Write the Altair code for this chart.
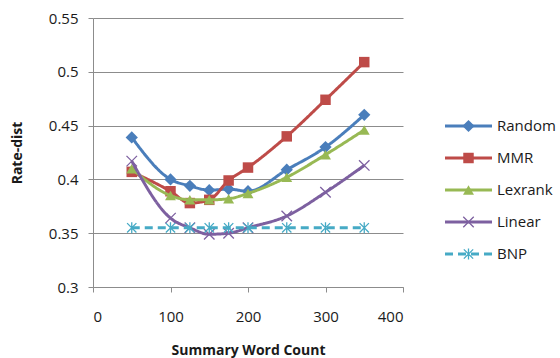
import altair as alt
import pandas as pd

# Summary length (words) and Rate-dist score of each method
word_counts = [50, 100, 125, 150, 175, 200, 250, 300, 350]
random_vals = [0.439, 0.400, 0.394, 0.390, 0.391, 0.389, 0.409, 0.430, 0.460]
mmr_vals = [0.407, 0.389, 0.378, 0.381, 0.399, 0.411, 0.440, 0.474, 0.509]
lexrank_vals = [0.410, 0.385, 0.381, 0.381, 0.382, 0.387, 0.402, 0.423, 0.446]
linear_vals = [0.417, 0.364, 0.355, 0.349, 0.350, 0.355, 0.366, 0.388, 0.413]
bnp_vals = [0.355, 0.355, 0.355, 0.355, 0.355, 0.355, 0.355, 0.355, 0.355]

series_names = ["Random", "MMR", "Lexrank", "Linear", "BNP"]
series_values = [random_vals, mmr_vals, lexrank_vals, linear_vals, bnp_vals]

x_ticks = [0, 100, 200, 300, 400]
y_ticks = [0.3, 0.35, 0.4, 0.45, 0.5, 0.55]

colors = ["#4A7EBB", "#BE4B48", "#98B954", "#7D60A0", "#46AAC5"]
dashes = [[1, 0], [1, 0], [1, 0], [1, 0], [8, 5]]

X_PATH = "M-1,-1L1,1M-1,1L1,-1"
STAR_PATH = "M0,-1L0,1M-0.85,-0.85L0.85,0.85M-0.85,0.85L0.85,-0.85"
markers = [
    dict(shape="diamond", filled=True, size=150),
    dict(shape="square", filled=True, size=110),
    dict(shape="triangle-up", filled=True, size=120),
    dict(shape=X_PATH, filled=False, size=110, strokeWidth=1.3),
    dict(shape=STAR_PATH, filled=False, size=120, strokeWidth=1.3),
]

FONT = "Open Sans"
GRID = "#8C8C8C"

x_enc = alt.X(
    "count:Q",
    scale=alt.Scale(domain=[0, 400], nice=False),
    axis=alt.Axis(
        values=x_ticks, title="Summary Word Count", grid=False,
        titlePadding=19, labelPadding=17,
    ),
)
y_enc = alt.Y(
    "value:Q",
    scale=alt.Scale(domain=[0.3, 0.55], nice=False, zero=False),
    axis=alt.Axis(
        values=y_ticks, format="~g", title="Rate-dist",
        titlePadding=24, labelPadding=10,
    ),
)

# one line + marker layer per method, drawn in series order
plot_layers = []
for name, vals, col, dash, mk in zip(series_names, series_values, colors, dashes, markers):
    df = pd.DataFrame({"count": word_counts, "value": vals, "series": name})
    base = alt.Chart(df)
    line = base.mark_line(
        color=col, strokeWidth=3, strokeDash=dash, interpolate="monotone", strokeCap="butt"
    ).encode(x=x_enc, y=y_enc)
    pts = base.mark_point(color=col, opacity=1, **mk).encode(x=x_enc, y=y_enc)
    plot_layers += [line, pts]

plot = alt.layer(*plot_layers)

# legend to the right of the plot area
legend_y = alt.Y(
    "series:N",
    scale=alt.Scale(type="point", domain=series_names, range=[108, 236], padding=0),
    axis=None,
)
legend_layers = []
for name, col, dash, mk in zip(series_names, colors, dashes, markers):
    ldf = pd.DataFrame({"series": [name]})
    lbase = alt.Chart(ldf)
    legend_layers.append(
        lbase.mark_rule(color=col, strokeWidth=3, strokeDash=dash).encode(
            x=alt.value(352), x2=alt.value(399), y=legend_y
        )
    )
    legend_layers.append(
        lbase.mark_point(color=col, opacity=1, **mk).encode(x=alt.value(375.5), y=legend_y)
    )
legend_layers.append(
    alt.Chart(pd.DataFrame({"series": series_names}))
    .mark_text(align="left", baseline="middle", fontSize=15, font=FONT, color="#1A1A1A")
    .encode(x=alt.value(404), y=legend_y, text="series:N")
)
legend = alt.layer(*legend_layers)

chart = (
    alt.layer(plot, legend)
    .resolve_scale(y="independent")
    .properties(
        width=310,
        height=269,
        padding={"left": 93, "top": 18, "right": 157, "bottom": 71},
        autosize=alt.AutoSizeParams(type="none"),
    )
    .configure_view(stroke=None)
    .configure_axis(
        domainColor=GRID,
        domainWidth=1,
        tickColor=GRID,
        tickSize=5,
        gridColor=GRID,
        gridWidth=1,
        labelFont=FONT,
        labelFontSize=15,
        labelColor="#1A1A1A",
        titleFont=FONT,
        titleFontSize=14,
        titleFontWeight="bold",
        titleColor="#1A1A1A",
    )
)

chart.save("out.html", embed_options={"renderer": "svg", "actions": False})
